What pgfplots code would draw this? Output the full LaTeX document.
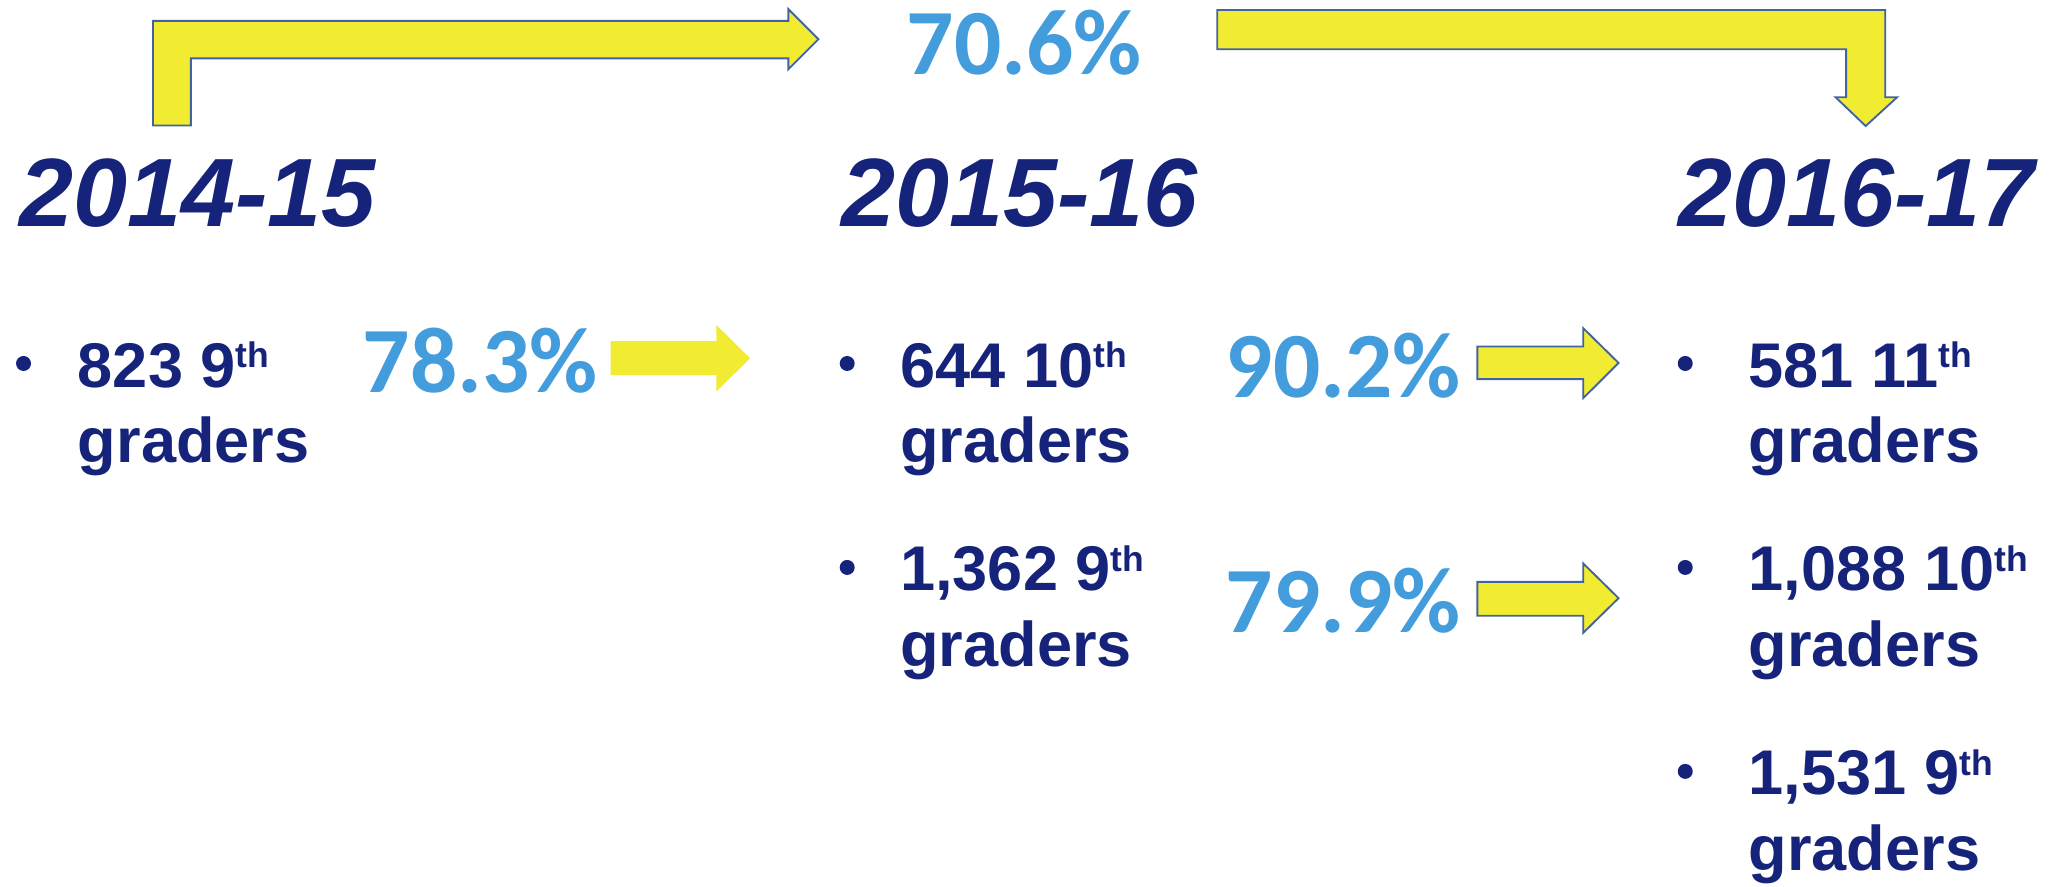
\documentclass[border=0pt]{standalone}
\usepackage{fontspec}
\usepackage{pgfplots}
\pgfplotsset{compat=1.18}
\setmainfont{Liberation Sans}
\newfontfamily\pctfont{Carlito}
\definecolor{navy}{HTML}{16237A}
\definecolor{pctblue}{HTML}{439CDB}
\definecolor{arrowyel}{HTML}{F1EC32}
\definecolor{arrowline}{HTML}{41639F}

% 1 axis unit = 0.35pt, picture is 1568 x 678 units
\newcommand\yr[1]{{\fontsize{26}{28}\selectfont\bfseries\itshape #1}}
\newcommand\body[1]{{\fontsize{16.9}{18}\selectfont\bfseries #1}}
\newcommand\sups[1]{\raisebox{5.3pt}{\fontsize{9.5}{10}\selectfont #1}}
\newcommand\pct[1]{{\pctfont\fontsize{25}{27}\selectfont\bfseries #1}}

\begin{document}
\begin{tikzpicture}
\begin{axis}[
    width=548.8pt, height=237.3pt,
    scale only axis,
    hide axis,
    xmin=0, xmax=1568,
    ymin=0, ymax=678,
    y dir=reverse,
    clip=false,
]
% bent arrows at the top
\addplot[fill=arrowyel, draw=arrowline, line width=0.5pt, mark=none]
    coordinates {(117,96) (117,16) (603,16) (603,7) (626,30) (603,53) (603,44.6) (146,44.6) (146,96)} -- cycle;
\addplot[fill=arrowyel, draw=arrowline, line width=0.5pt, mark=none]
    coordinates {(931,7.6) (1442,7.6) (1442,74.4) (1451,74.4) (1427,96.4) (1404,74.4) (1412,74.4) (1412,37.7) (931,37.7)} -- cycle;
% straight arrows
\addplot[fill=arrowyel, draw=none, mark=none]
    coordinates {(467,261) (548,261) (548,248.6) (573.7,274) (548,299.6) (548,287) (467,287)} -- cycle;
\addplot[fill=arrowyel, draw=arrowline, line width=0.5pt, mark=none]
    coordinates {(1130,265) (1211,265) (1211,251) (1238,277.6) (1211,304.5) (1211,290) (1130,290)} -- cycle;
\addplot[fill=arrowyel, draw=arrowline, line width=0.5pt, mark=none]
    coordinates {(1130,445) (1211,445) (1211,431) (1238,457.5) (1211,484) (1211,471) (1130,471)} -- cycle;

% bullets
\addplot[only marks, mark=*, mark size=1.8pt, color=navy]
    coordinates {(18,278) (648,278) (648,434) (1289,278) (1289,434) (1289,590)};

% years
\node[anchor=base west, inner sep=0, text=navy] at (axis cs:14,173) {\yr{2014-15}};
\node[anchor=base west, inner sep=0, text=navy] at (axis cs:643,173) {\yr{2015-16}};
\node[anchor=base west, inner sep=0, text=navy] at (axis cs:1283,173) {\yr{2016-17}};

% rates
\node[anchor=base west, inner sep=0, text=pctblue] at (axis cs:693,57) {\pct{70.6\%}};
\node[anchor=base west, inner sep=0, text=pctblue] at (axis cs:277,300) {\pct{78.3\%}};
\node[anchor=base west, inner sep=0, text=pctblue] at (axis cs:937,304) {\pct{90.2\%}};
\node[anchor=base west, inner sep=0, text=pctblue] at (axis cs:937,484) {\pct{79.9\%}};

% counts
\node[anchor=base west, inner sep=0, text=navy] at (axis cs:59,296) {\body{823 9\sups{th}}};
\node[anchor=base west, inner sep=0, text=navy] at (axis cs:59,354) {\body{graders}};
\node[anchor=base west, inner sep=0, text=navy] at (axis cs:688,296) {\body{644 10\sups{th}}};
\node[anchor=base west, inner sep=0, text=navy] at (axis cs:688,354) {\body{graders}};
\node[anchor=base west, inner sep=0, text=navy] at (axis cs:688,452) {\body{1,362 9\sups{th}}};
\node[anchor=base west, inner sep=0, text=navy] at (axis cs:688,510) {\body{graders}};
\node[anchor=base west, inner sep=0, text=navy] at (axis cs:1337,296) {\body{581 11\sups{th}}};
\node[anchor=base west, inner sep=0, text=navy] at (axis cs:1337,354) {\body{graders}};
\node[anchor=base west, inner sep=0, text=navy] at (axis cs:1337,452) {\body{1,088 10\sups{th}}};
\node[anchor=base west, inner sep=0, text=navy] at (axis cs:1337,510) {\body{graders}};
\node[anchor=base west, inner sep=0, text=navy] at (axis cs:1337,608) {\body{1,531 9\sups{th}}};
\node[anchor=base west, inner sep=0, text=navy] at (axis cs:1337,666) {\body{graders}};
\end{axis}
\pgfresetboundingbox
\path[use as bounding box] (current axis.south west) rectangle (current axis.north east);
\end{tikzpicture}
\end{document}
